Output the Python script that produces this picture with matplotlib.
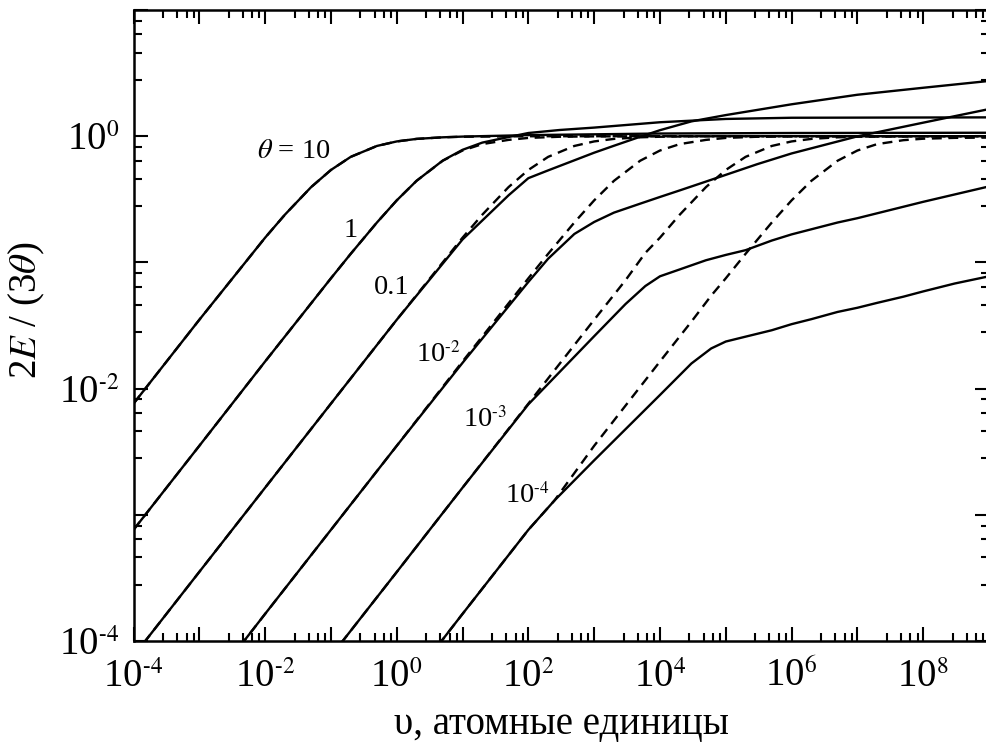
import math

import matplotlib

matplotlib.use("Agg")
import matplotlib._mathtext as mathtext_internals
import matplotlib.pyplot as plt
from matplotlib.ticker import FixedLocator, FuncFormatter, NullFormatter

plt.rcParams["font.family"] = ["Liberation Serif", "DejaVu Serif"]
plt.rcParams["mathtext.fontset"] = "stix"
# the original uses rather small superscripts
mathtext_internals.SHRINK_FACTOR = 0.6

# --- curves: upsilon (atomic units) and 2E/(3*theta) ---
# theta = 10
v_t10 = [1e-4, 1e-3, 1e-2, 2e-2, 5e-2, 1e-1, 2e-1, 5e-1, 1, 2, 5, 10, 100, 1e4, 1e6, 1e9]
y_t10_dash = [0.0076, 0.0351, 0.157, 0.239, 0.395, 0.540, 0.686, 0.837, 0.909, 0.952, 0.980, 0.990, 0.999, 1.0, 1.0, 1.0]
y_t10_sol = [0.0076, 0.0351, 0.157, 0.239, 0.395, 0.540, 0.686, 0.837, 0.909, 0.952, 0.980, 0.993, 1.02, 1.05, 1.06, 1.065]

# theta = 1
v_t1 = [1e-4, 1e-3, 1e-2, 1e-1, 2e-1, 5e-1, 1, 2, 5, 10, 20, 50, 100, 300, 1e3, 1e4, 1e5, 1e6, 1e9]
y_t1_dash = [7.6e-4, 3.52e-3, 0.0164, 0.0748, 0.117, 0.207, 0.310, 0.443, 0.639, 0.770, 0.866, 0.935, 0.969, 0.990, 0.997, 1.0, 1.0, 1.0, 1.0]
y_t1_sol = [7.6e-4, 3.52e-3, 0.0164, 0.0748, 0.117, 0.207, 0.310, 0.443, 0.641, 0.78, 0.89, 0.985, 1.06, 1.12, 1.17, 1.29, 1.37, 1.40, 1.41]

# theta = 0.1
v_t01 = [1e-4, 1e-2, 1e-1, 1, 10, 20, 50, 100, 200, 500, 1e3, 2e3, 5e3, 1e4, 3e4, 1e5, 1e6, 1e7, 1e8, 1e9]
y_t01_dash = [7.6e-5, 1.64e-3, 7.6e-3, 0.0351, 0.157, 0.239, 0.395, 0.540, 0.686, 0.837, 0.909, 0.952, 0.980, 0.990, 0.997, 0.999, 1.0, 1.0, 1.0, 1.0]
y_t01_sol = [7.6e-5, 1.64e-3, 7.6e-3, 0.0351, 0.152, 0.215, 0.34, 0.465, 0.536, 0.644, 0.74, 0.84, 0.99, 1.116, 1.31, 1.47, 1.79, 2.13, 2.42, 2.74]

# theta = 1e-2
v_t2 = [1e-3, 1e-2, 1e-1, 1, 10, 100, 200, 500, 1e3, 2e3, 5e3, 1e4, 2e4, 5e4, 1e5, 3e5, 1e6, 1e7, 1e8, 1e9]
y_t2_dash = [3.5e-5, 1.64e-4, 7.6e-4, 3.52e-3, 0.0164, 0.0748, 0.117, 0.207, 0.310, 0.443, 0.639, 0.770, 0.866, 0.935, 0.969, 0.990, 0.997, 1.0, 1.0, 1.0]
y_t2_sol = [3.5e-5, 1.64e-4, 7.6e-4, 3.52e-3, 0.0160, 0.070, 0.107, 0.168, 0.209, 0.248, 0.292, 0.330, 0.372, 0.437, 0.494, 0.60, 0.730, 0.997, 1.28, 1.64]

# theta = 1e-3
v_t3 = [1e-1, 1, 10, 100, 1e3, 3e3, 6e3, 1e4, 2e4, 5e4, 1e5, 2e5, 5e5, 1e6, 2e6, 5e6, 1e7, 1e8, 1e9]
y_t3_dash = [7.6e-5, 3.52e-4, 1.64e-3, 7.6e-3, 0.0351, 0.0723, 0.119, 0.157, 0.239, 0.395, 0.540, 0.686, 0.837, 0.909, 0.952, 0.980, 0.990, 0.999, 1.0]
y_t3_sol = [7.6e-5, 3.52e-4, 1.64e-3, 7.5e-3, 0.026, 0.0468, 0.065, 0.0776, 0.088, 0.104, 0.1146, 0.125, 0.149, 0.1667, 0.183, 0.207, 0.224, 0.302, 0.40]

# theta = 1e-4
v_t4 = [3, 10, 100, 250, 1e3, 1e4, 3e4, 6e4, 1e5, 2e5, 5e5, 1e6, 2e6, 5e6, 1e7, 2e7, 5e7, 1e8, 3e8, 1e9]
y_t4_dash = [7.3e-5, 1.64e-4, 7.6e-4, 1.3e-3, 3.52e-3, 0.0164, 0.0339, 0.0545, 0.0748, 0.117, 0.207, 0.310, 0.443, 0.639, 0.770, 0.866, 0.93, 0.955, 0.97, 0.975]
y_t4_sol = [7.3e-5, 1.64e-4, 7.6e-4, 1.3e-3, 2.7e-3, 8.9e-3, 0.0158, 0.0208, 0.0236, 0.0258, 0.029, 0.0324, 0.0355, 0.0405, 0.0437, 0.0478, 0.0535, 0.0589, 0.068, 0.0776]

curves = [
    (v_t10, y_t10_sol, y_t10_dash),
    (v_t1, y_t1_sol, y_t1_dash),
    (v_t01, y_t01_sol, y_t01_dash),
    (v_t2, y_t2_sol, y_t2_dash),
    (v_t3, y_t3_sol, y_t3_dash),
    (v_t4, y_t4_sol, y_t4_dash),
]

# curve labels: (text, x, y) in data coords
labels = [
    (r"$\theta$ = 10", 2.75e-2, 0.76),
    ("1", 0.20, 0.179),
    ("0.1", 0.85, 0.0633),
    (r"10$^{\text{-}2}$", 4.24, 0.0183),
    (r"10$^{\text{-}3}$", 21.9, 5.57e-3),
    (r"10$^{\text{-}4}$", 95.5, 1.39e-3),
]

fig = plt.figure(figsize=(9.87, 7.49), dpi=100)
ax = fig.add_axes([133.5 / 987, 108 / 749, (989 - 133.5) / 987, 631 / 749])

for v, ysol, ydash in curves:
    ax.plot(v, ydash, color="black", lw=1.7, ls=(0, (4.2, 2.8)))
    ax.plot(v, ysol, color="black", lw=1.7)

for text, x, y in labels:
    ax.text(x, y, text, fontsize=20.5, ha="center", va="center")

ax.set_xscale("log")
ax.set_yscale("log")
ax.set_xlim(1e-4, 1e9)
ax.set_ylim(1e-4, 10)

minor_mult = [2.8, 4.6, 6.4, 8.2]
ax.xaxis.set_major_locator(FixedLocator([10.0 ** k for k in range(-4, 10)]))
ax.xaxis.set_minor_locator(FixedLocator([m * 10.0 ** k for k in range(-4, 9) for m in minor_mult]))
ax.yaxis.set_major_locator(FixedLocator([10.0 ** k for k in range(-4, 2)]))
ax.yaxis.set_minor_locator(FixedLocator([m * 10.0 ** k for k in range(-4, 1) for m in minor_mult]))


def even_power(val, pos):
    k = int(round(math.log10(val)))
    if k % 2:
        return ""
    if k < 0:
        return r"10$^{\text{-}%d}$" % (-k)
    return r"10$^{%d}$" % k


ax.xaxis.set_major_formatter(FuncFormatter(even_power))
ax.yaxis.set_major_formatter(FuncFormatter(even_power))
ax.xaxis.set_minor_formatter(NullFormatter())
ax.yaxis.set_minor_formatter(NullFormatter())

ax.tick_params(which="both", direction="in", top=True, right=True, width=1.5, labelsize=28)
ax.tick_params(which="major", length=10)
ax.tick_params(which="minor", length=6)
ax.tick_params(axis="x", which="major", pad=13)
ax.tick_params(axis="y", which="major", pad=10)
for sp in ax.spines.values():
    sp.set_linewidth(1.8)

ax.set_xlabel("\u03c5, атомные единицы", fontsize=28, labelpad=7)
ax.set_ylabel(r"2$E$ / (3$\theta$)", fontsize=28)
ax.yaxis.set_label_coords(-0.101, 0.525)

fig.savefig("out.png", dpi=100, facecolor="white")
